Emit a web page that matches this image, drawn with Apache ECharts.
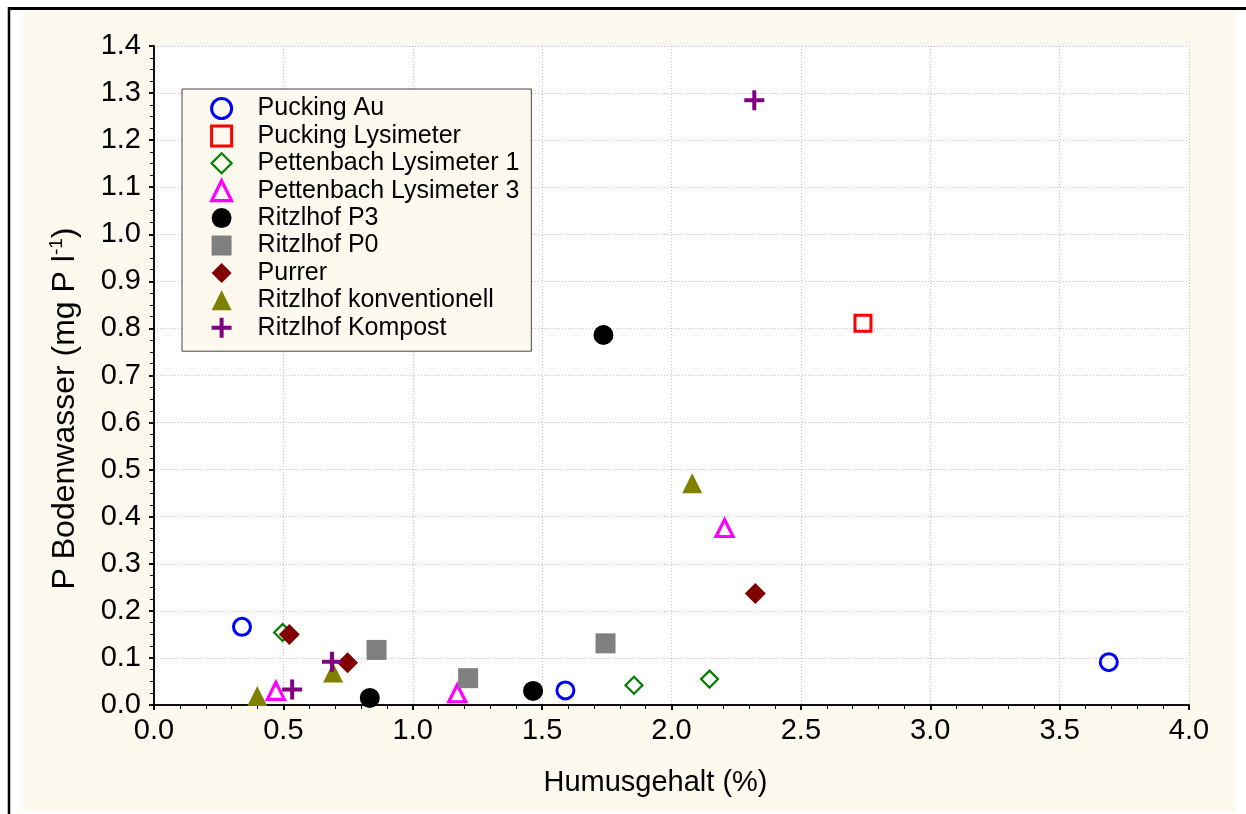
<!DOCTYPE html>
<html><head><meta charset="utf-8">
<script src="https://cdn.jsdelivr.net/npm/echarts@6/dist/echarts.min.js"></script>
<style>html,body{margin:0;padding:0;background:#fff;} #c{width:1246px;height:814px;}</style>
</head><body><div id="c"></div>
<script>
// ---- data (x = Humusgehalt %, y = P Bodenwasser mg P/l) ----
const seriesNames = ['Pucking Au','Pucking Lysimeter','Pettenbach Lysimeter 1','Pettenbach Lysimeter 3','Ritzlhof P3','Ritzlhof P0','Purrer','Ritzlhof konventionell','Ritzlhof Kompost'];
const puckingAu    = [[0.34,0.166],[1.59,0.031],[3.69,0.091]];
const puckingLys   = [[2.74,0.811]];
const pettenbach1  = [[0.497,0.154],[1.855,0.042],[2.147,0.055]];
const pettenbach3  = [[0.471,0.030],[1.172,0.025],[2.205,0.376]];
const ritzP3       = [[0.834,0.015],[1.465,0.030],[1.737,0.786]];
const ritzP0       = [[0.86,0.117],[1.214,0.057],[1.745,0.131]];
const purrer       = [[0.523,0.150],[0.748,0.090],[2.324,0.237]];
const ritzKonv     = [[0.399,0.019],[0.692,0.069],[2.08,0.471]];
const ritzKompost  = [[0.534,0.033],[0.688,0.092],[2.32,1.285]];
const xTickLabels = ['0.0','0.5','1.0','1.5','2.0','2.5','3.0','3.5','4.0'];
const yTickLabels = ['0.0','0.1','0.2','0.3','0.4','0.5','0.6','0.7','0.8','0.9','1.0','1.1','1.2','1.3','1.4'];

const FONT = "'Liberation Sans', Arial, sans-serif";
const CREAM = '#fdf9ee';
const plusPath = 'path://M4,0H6V4H10V6H6V10H4V6H0V4H4Z';

function openStyle(color, w){ return {color:'rgba(0,0,0,0)', borderColor:color, borderWidth:w, opacity:1}; }
function filled(color){ return {color:color, borderWidth:0, opacity:1}; }

const defs = [
  {data:puckingAu,   symbol:'circle',   size:17, style:openStyle('#0000ff',3), open:3},
  {data:puckingLys,  symbol:'rect',     size:16, style:openStyle('#ff0000',3), open:3},
  {data:pettenbach1, symbol:'diamond',  size:17, style:openStyle('#008000',2.2), open:2.2},
  {data:pettenbach3, symbol:'triangle', size:17, style:openStyle('#ff00ff',3.2), open:3.2},
  {data:ritzP3,      symbol:'circle',   size:20, style:filled('#000000')},
  {data:ritzP0,      symbol:'rect',     size:20, style:filled('#808080')},
  {data:purrer,      symbol:'diamond',  size:21, style:filled('#800000')},
  {data:ritzKonv,    symbol:'triangle', size:20, style:filled('#808000')},
  {data:ritzKompost, symbol:plusPath,   size:20, style:filled('#800080')}
];

const series = defs.map((d,i)=>({
  type:'scatter', name:seriesNames[i], data:d.data, symbol:d.symbol, symbolSize:d.size,
  itemStyle:d.style, emphasis:{disabled:true}, xAxisIndex:0, yAxisIndex:0, clip:false
}));

const legendData = defs.map((d,i)=> d.open ? {name:seriesNames[i], itemStyle:{borderWidth:d.open, opacity:1}} : {name:seriesNames[i], itemStyle:{opacity:1}});

const axisLineStyle = {color:'#000', width:1.5};
const gridLine = {show:true, lineStyle:{color:'#c4c4c4', width:1, type:[1,2]}};

const chart = echarts.init(document.getElementById('c'), null, {renderer:'canvas'});
chart.setOption({
  backgroundColor:'transparent',
  animation:false,
  textStyle:{fontFamily:FONT},
  graphic:[
    {type:'rect', z:-10, silent:true, shape:{x:23,y:11,width:1213,height:801}, style:{fill:CREAM}},
    {type:'line', z:-9, silent:true, shape:{x1:8,y1:8.5,x2:1246,y2:8.5}, style:{stroke:'#000', lineWidth:3}},
    {type:'line', z:-9, silent:true, shape:{x1:9,y1:7,x2:9,y2:814}, style:{stroke:'#000', lineWidth:2.5}}
  ],
  grid:{left:154, top:46, right:57, bottom:109, show:true, backgroundColor:'#fff', borderWidth:0},
  legend:{
    orient:'vertical', left:182, top:89,
    backgroundColor:CREAM, borderColor:'#444', borderWidth:1,
    padding:[7,12,11,28], itemWidth:20, itemHeight:20, itemGap:2.4,
    textStyle:{fontSize:25, fontFamily:FONT, color:'#000', padding:[0,0,0,21]},
    data:legendData
  },
  xAxis:[{
    type:'value', min:0, max:4, interval:0.5, position:'bottom',
    axisLine:{show:true, lineStyle:axisLineStyle},
    axisTick:{show:true, length:5, lineStyle:{color:'#000', width:1.5}},
    minorTick:{show:true, splitNumber:5, length:4, lineStyle:{color:'#000', width:1}},
    splitLine:gridLine,
    axisLabel:{fontSize:29, color:'#000', fontFamily:FONT, margin:11, formatter:(v)=>xTickLabels[Math.round(v/0.5)]},
    name:'Humusgehalt (%)', nameLocation:'middle', nameGap:63,
    nameTextStyle:{fontSize:29, color:'#000', fontFamily:FONT, padding:[0,32,0,0]}
  },{
    type:'value', min:0, max:4, interval:0.5, position:'top',
    axisLine:{show:true, lineStyle:axisLineStyle},
    axisTick:{show:true, inside:true, length:5, lineStyle:{color:'#000', width:1.5}},
    minorTick:{show:true, splitNumber:5, length:4, lineStyle:{color:'#000', width:1}},
    splitLine:{show:false}, axisLabel:{show:false}
  }],
  yAxis:[{
    type:'value', min:0, max:1.4, interval:0.1, position:'left',
    axisLine:{show:true, lineStyle:axisLineStyle},
    axisTick:{show:true, length:5, lineStyle:{color:'#000', width:1.5}},
    minorTick:{show:true, splitNumber:4, length:4, lineStyle:{color:'#000', width:1}},
    splitLine:gridLine,
    axisLabel:{fontSize:29, color:'#000', fontFamily:FONT, margin:13, formatter:(v)=>yTickLabels[Math.round(v/0.1)]},
    name:'P Bodenwasser (mg P l{sup|-1})', nameLocation:'middle', nameGap:71,
    nameTextStyle:{fontSize:32, color:'#000', fontFamily:FONT, padding:[0,66,0,0],
      rich:{sup:{fontSize:19, fontFamily:FONT, color:'#000', padding:[0,0,17,0]}}}
  },{
    type:'value', min:0, max:1.4, interval:0.1, position:'right',
    axisLine:{show:true, lineStyle:axisLineStyle},
    axisTick:{show:true, inside:true, length:5, lineStyle:{color:'#000', width:1.5}},
    minorTick:{show:true, splitNumber:4, length:4, lineStyle:{color:'#000', width:1}},
    splitLine:{show:false}, axisLabel:{show:false}
  }],
  series:series
});
</script></body></html>
